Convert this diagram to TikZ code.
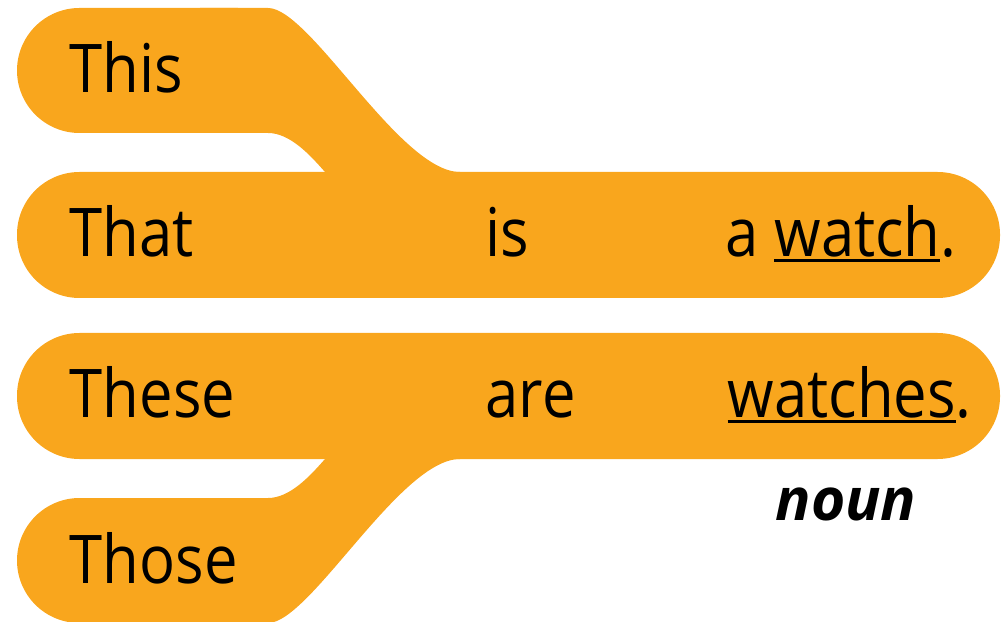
\documentclass[tikz,border=0pt]{standalone}
\usepackage{fontspec}
\setmainfont{Open Sans}[FakeStretch=0.89]
\newfontfamily\nounfont{Open Sans}
\usepackage{tikz}
\definecolor{bandorange}{HTML}{F9A61D}
\newcommand\wordline[1]{\setbox0\hbox{#1}\rlap{\rule[-1.5pt]{\wd0}{0.9pt}}\box0}

\begin{document}
\begin{tikzpicture}[x=0.01cm,y=-0.01cm,
  band/.style={fill=bandorange},
  pill/.style={fill=bandorange,rounded corners=0.625cm},
  word/.style={anchor=base west,inner sep=0pt,font=\fontsize{19.1pt}{23pt}\selectfont},
  tag/.style={anchor=base,inner sep=0pt,font=\fontsize{16.7pt}{20pt}\nounfont\bfseries\itshape}]
  \useasboundingbox (0,0) rectangle (1001,622);
  \fill[pill] (17,8) rectangle (300,133);
  \fill[pill] (17,172) rectangle (1000,298);
  \fill[pill] (17,333) rectangle (1000,459);
  \fill[pill] (17,498) rectangle (300,623);
  \fill[band] (200,8) -- (268,8) .. controls (310,8) and (400,172) .. (460,172)
    -- (325,172) .. controls (310,155) and (290,133) .. (268,133) -- (200,133) -- cycle;
  \fill[band] (200,623) -- (268,623) .. controls (310,623) and (400,459) .. (460,459)
    -- (325,459) .. controls (310,476) and (290,498) .. (268,498) -- (200,498) -- cycle;
  \node[word] (this) at (69,93) {This};
  \node[word] (that) at (69,257) {That};
  \node[word] (these) at (69,418) {These};
  \node[word] (those) at (69,583) {Those};
  \node[word] (is) at (485,257) {is};
  \node[word] (are) at (485,418) {are};
  \node[word] (watch) at (725,257) {a \wordline{watch}.};
  \node[word] (watches) at (727,418) {\wordline{watches}.};
  \node[tag] (noun) at (846,520) {noun};
\end{tikzpicture}
\end{document}
